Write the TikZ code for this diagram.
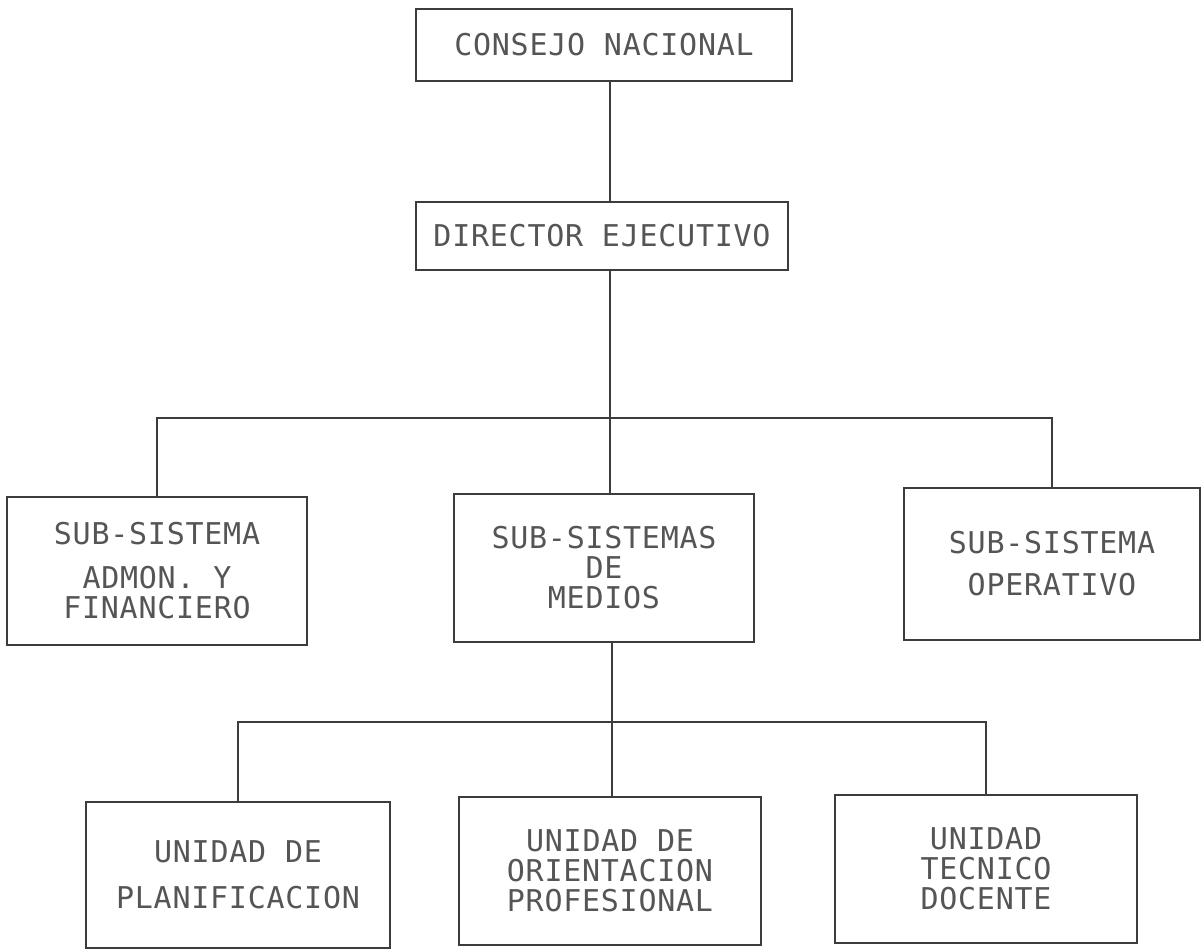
\documentclass[tikz,border=0pt]{standalone}
\usepackage{fontspec}
\usetikzlibrary{positioning}
\newfontfamily\typewr[LetterSpace=2.5]{DejaVu Sans Mono}
\definecolor{ink}{HTML}{555555}
\definecolor{rule}{HTML}{3C3C3C}

\begin{document}
\begin{tikzpicture}[x=0.5pt,y=-0.5pt,
  box/.style={draw=rule,line width=1.2pt,rectangle,align=center,
    text=ink,font=\typewr\fontsize{15pt}{15pt}\selectfont,inner sep=0pt},
  link/.style={draw=rule,line width=1.2pt}]
  \useasboundingbox (0,0) rectangle (1204,951);
  % direccion
  \node[box,minimum width=188pt,minimum height=36pt] (consejo)  at (604,45)  {CONSEJO NACIONAL};
  \node[box,minimum width=186pt,minimum height=34pt] (director) at (602,236) {DIRECTOR EJECUTIVO};
  % sub-sistemas
  \node[box,minimum width=150pt,minimum height=74pt] (admon)     at (157,571)  {SUB-SISTEMA\\[7pt]ADMON. Y\\FINANCIERO};
  \node[box,minimum width=150pt,minimum height=74pt] (medios)    at (604,568)  {SUB-SISTEMAS\\DE\\MEDIOS};
  \node[box,minimum width=148pt,minimum height=76pt] (operativo) at (1052,564) {SUB-SISTEMA\\[6pt]OPERATIVO};
  % unidades
  \node[box,minimum width=152pt,minimum height=73pt] (planif)  at (238,875) {UNIDAD DE\\[8pt]PLANIFICACION};
  \node[box,minimum width=151pt,minimum height=74pt] (orient)  at (610,871) {UNIDAD DE\\ORIENTACION\\PROFESIONAL};
  \node[box,minimum width=151pt,minimum height=74pt] (tecnico) at (986,869) {UNIDAD\\TECNICO\\DOCENTE};
  % conexiones
  \coordinate (busA) at (610,418);
  \coordinate (busB) at (612,722);
  \draw[link] (consejo.south -| busA) -- (director.north -| busA);
  \draw[link] (director.south -| busA) -- (busA);
  \draw[link] (admon.north) |- (busA) -| (operativo.north);
  \draw[link] (busA) -- (medios.north -| busA);
  \draw[link] (medios.south -| busB) -- (busB);
  \draw[link] (planif.north) |- (busB) -| (tecnico.north);
  \draw[link] (busB) -- (orient.north -| busB);
\end{tikzpicture}
\end{document}
